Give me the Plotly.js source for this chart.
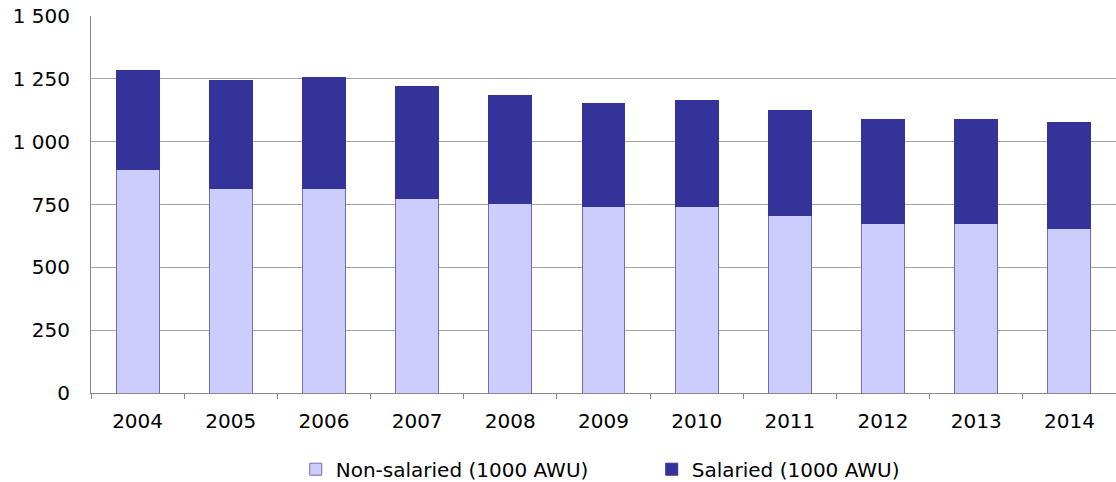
<!DOCTYPE html>
<html>
<head>
<meta charset="utf-8">
<script src="https://cdn.plot.ly/plotly-3.0.1.min.js"></script>
<style>
  html, body { margin: 0; padding: 0; background: #fff; }
  #chart { width: 1116px; height: 482px; }
</style>
</head>
<body>
<div id="chart"></div>
<script>
const years = ["2004", "2005", "2006", "2007", "2008", "2009", "2010", "2011", "2012", "2013", "2014"];
const nonSalaried = [888, 814, 812, 774, 754, 742, 744, 706, 674, 675, 653];
const salaried = [396, 428, 445, 444, 430, 410, 418, 419, 413, 412, 423];
const yTicks = [0, 250, 500, 750, 1000, 1250, 1500];

const fontFamily = "Verdana, 'DejaVu Sans', sans-serif";

const traces = [
  {
    type: "bar",
    name: "Non-salaried (1000 AWU)",
    x: years,
    y: nonSalaried,
    marker: { color: "#CCCCFF", line: { color: "#6E6EB8", width: 1 } }
  },
  {
    type: "bar",
    name: "Salaried (1000 AWU)",
    x: years,
    y: salaried,
    marker: { color: "#333399", line: { color: "#333399", width: 1 } }
  }
];

const layout = {
  width: 1116,
  height: 482,
  margin: { l: 91, r: 0, t: 16, b: 89, pad: 0 },
  paper_bgcolor: "#ffffff",
  plot_bgcolor: "#ffffff",
  barmode: "stack",
  bargap: 0.54,
  separators: ", ",
  font: { family: fontFamily, size: 20, color: "#000000" },
  showlegend: true,
  legend: {
    orientation: "h",
    xref: "container",
    yref: "container",
    x: 0.265,
    xanchor: "left",
    y: 0.067,
    yanchor: "top",
    entrywidth: 311,
    entrywidthmode: "pixels",
    traceorder: "normal",
    font: { family: fontFamily, size: 20, color: "#000000" },
    bgcolor: "rgba(0,0,0,0)"
  },
  xaxis: {
    type: "category",
    tickson: "boundaries",
    ticks: "outside",
    ticklen: 5,
    tickcolor: "#888888",
    tickwidth: 1,
    showgrid: false,
    showline: true,
    linecolor: "#888888",
    linewidth: 1,
    ticklabelstandoff: 10,
    tickfont: { family: fontFamily, size: 20, color: "#000000" },
    fixedrange: true
  },
  yaxis: {
    range: [0, 1500],
    tickvals: yTicks,
    tickformat: ",d",
    ticks: "",
    showgrid: true,
    gridcolor: "#A6A6A6",
    gridwidth: 1,
    showline: true,
    linecolor: "#888888",
    linewidth: 1,
    zeroline: false,
    ticklabelstandoff: 16,
    tickfont: { family: fontFamily, size: 20, color: "#000000" },
    fixedrange: true
  }
};

Plotly.newPlot("chart", traces, layout, { displayModeBar: false, staticPlot: true });
</script>
</body>
</html>
